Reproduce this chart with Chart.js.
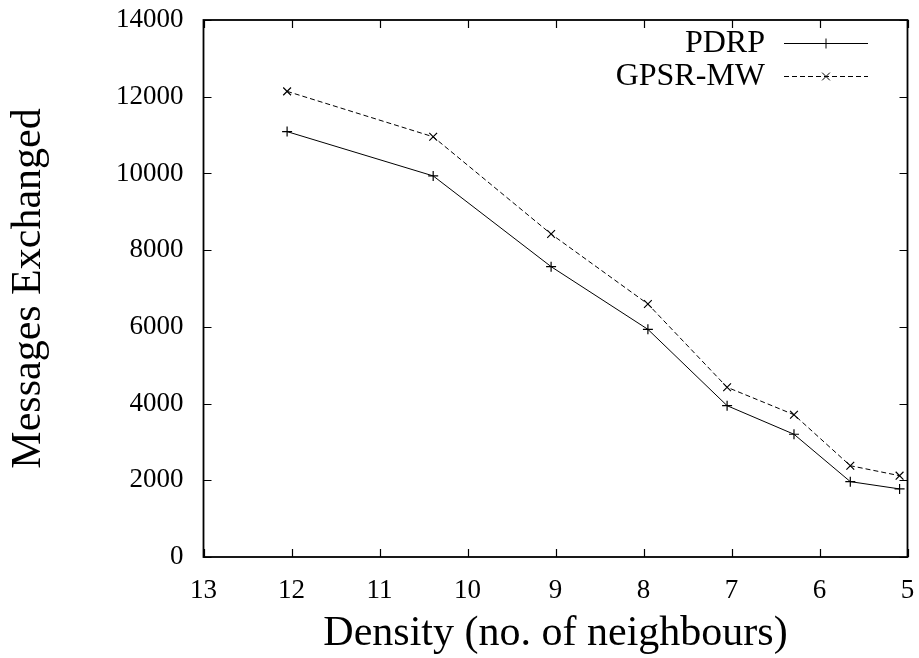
<!DOCTYPE html>
<html>
<head>
<meta charset="utf-8">
<script src="https://cdn.jsdelivr.net/npm/chart.js@4/dist/chart.umd.min.js"></script>
<style>
  html, body { margin: 0; padding: 0; background: #fff; }
  #wrap { width: 919px; height: 658px; }
</style>
</head>
<body>
<div id="wrap"><canvas id="c" width="919" height="658"></canvas></div>
<script>
// Density (average number of neighbours) for each simulation run
const density = [12.05, 10.39, 9.05, 7.95, 7.05, 6.29, 5.65, 5.09];
// Messages exchanged per protocol
const pdrp   = [11090, 9935, 7570, 5935, 3945, 3200, 1965, 1775];
const gpsrMw = [12140, 10955, 8420, 6595, 4425, 3710, 2380, 2120];
// Axis tick values
const xTicks = [13, 12, 11, 10, 9, 8, 7, 6, 5];
const yTicks = [0, 2000, 4000, 6000, 8000, 10000, 12000, 14000];

const FONT = 'Liberation Serif, Times New Roman, serif';
const toPoints = ys => density.map((x, i) => ({ x: x, y: ys[i] }));

// Box frame with inward ticks on all four sides
const framePlugin = {
  id: 'frame',
  afterDatasetsDraw(chart) {
    const { ctx, chartArea: a, scales: { x, y } } = chart;
    const len = 8;
    ctx.save();
    ctx.strokeStyle = '#000';
    ctx.lineWidth = 1.2;
    ctx.beginPath();
    x.ticks.forEach(t => {
      const px = Math.round(x.getPixelForValue(t.value)) + 0.5;
      ctx.moveTo(px, a.bottom); ctx.lineTo(px, a.bottom - len);
      ctx.moveTo(px, a.top);    ctx.lineTo(px, a.top + len);
    });
    y.ticks.forEach(t => {
      const py = Math.round(y.getPixelForValue(t.value)) + 0.5;
      ctx.moveTo(a.left, py);  ctx.lineTo(a.left + len, py);
      ctx.moveTo(a.right, py); ctx.lineTo(a.right - len, py);
    });
    ctx.stroke();
    ctx.lineWidth = 1.8;
    ctx.strokeRect(a.left, a.top, a.right - a.left, a.bottom - a.top);
    ctx.restore();
  }
};

// Key in the top-right corner: label, then line sample with its marker
const keyPlugin = {
  id: 'key',
  afterDraw(chart) {
    const { ctx } = chart;
    const textRight = 765, lineL = 784, lineR = 868;
    const rows = [43, 76];
    ctx.save();
    ctx.font = '32px ' + FONT;
    ctx.fillStyle = '#000';
    ctx.textAlign = 'right';
    ctx.textBaseline = 'middle';
    chart.data.datasets.forEach((ds, i) => {
      const yy = rows[i] + 0.5;
      ctx.fillText(ds.label, textRight, rows[i] + 1);
      ctx.strokeStyle = ds.borderColor;
      ctx.lineWidth = ds.borderWidth;
      ctx.setLineDash(ds.borderDash || []);
      ctx.beginPath();
      ctx.moveTo(lineL, yy); ctx.lineTo(lineR, yy);
      ctx.stroke();
      ctx.setLineDash([]);
      Chart.helpers.drawPoint(ctx, {
        pointStyle: ds.pointStyle, radius: ds.pointRadius, rotation: 0,
        borderWidth: ds.pointBorderWidth
      }, (lineL + lineR) / 2, yy);
    });
    ctx.restore();
  }
};

new Chart(document.getElementById('c'), {
  type: 'line',
  data: {
    datasets: [
      {
        label: 'PDRP',
        data: toPoints(pdrp),
        borderColor: '#000',
        backgroundColor: '#000',
        borderWidth: 1,
        pointStyle: 'cross',
        pointRadius: 5,
        pointBorderWidth: 1.2,
        pointBorderColor: '#000',
        fill: false,
        tension: 0
      },
      {
        label: 'GPSR-MW',
        data: toPoints(gpsrMw),
        borderColor: '#000',
        backgroundColor: '#000',
        borderWidth: 1,
        borderDash: [5, 3],
        pointStyle: 'crossRot',
        pointRadius: 5.5,
        pointBorderWidth: 1.2,
        pointBorderColor: '#000',
        fill: false,
        tension: 0
      }
    ]
  },
  options: {
    responsive: false,
    animation: false,
    devicePixelRatio: 1,
    layout: { padding: { left: 0, right: 11.5, top: 20, bottom: 0 } },
    plugins: { legend: { display: false }, tooltip: { enabled: false } },
    scales: {
      x: {
        type: 'linear',
        reverse: true,
        min: 5,
        max: 13,
        afterBuildTicks: s => { s.ticks = xTicks.map(v => ({ value: v })); },
        afterFit: s => { s.height = 101; s.paddingLeft = 0; s.paddingRight = 0; },
        grid: { display: false },
        border: { display: false },
        ticks: {
          color: '#000',
          padding: 10,
          maxRotation: 0,
          font: { family: FONT, size: 27 }
        },
        title: {
          display: true,
          text: 'Density (no. of neighbours)',
          color: '#000',
          font: { family: FONT, size: 42, lineHeight: 1 },
          padding: { top: 0, bottom: 3 }
        }
      },
      y: {
        min: 0,
        max: 14000,
        afterBuildTicks: s => { s.ticks = yTicks.map(v => ({ value: v })); },
        afterFit: s => { s.width = 203.5; s.paddingTop = 0; s.paddingBottom = 0; },
        grid: { display: false },
        border: { display: false },
        ticks: {
          color: '#000',
          padding: 12,
          font: { family: FONT, size: 27 },
          callback: v => String(v)
        },
        title: {
          display: true,
          text: 'Messages Exchanged',
          color: '#000',
          font: { family: FONT, size: 42, lineHeight: 1 },
          padding: { top: 8, bottom: 0 }
        }
      }
    }
  },
  plugins: [framePlugin, keyPlugin]
});
</script>
</body>
</html>
